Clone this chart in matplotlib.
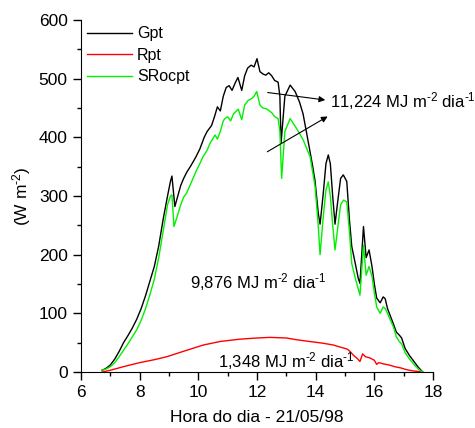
"""Radiacao global, refletida e saldo de ondas curtas - 21/05/98"""

import matplotlib
matplotlib.use("Agg")
import matplotlib.pyplot as plt
from matplotlib.ticker import MultipleLocator

plt.rcParams["font.family"] = ["Liberation Sans", "DejaVu Sans"]
plt.rcParams["mathtext.fontset"] = "custom"
plt.rcParams["mathtext.rm"] = "Liberation Sans"
plt.rcParams["mathtext.it"] = "Liberation Sans"
plt.rcParams["mathtext.default"] = "regular"

FS = 12.5

# Gpt (global)
gpt_hora = [6.72, 6.85, 7.0, 7.15, 7.3, 7.45, 7.6, 7.75, 7.9, 8.05, 8.2, 8.35, 8.5,
            8.65, 8.8, 8.95, 9.05, 9.1, 9.2, 9.3, 9.4, 9.5, 9.6, 9.75, 9.9, 10.05,
            10.2, 10.3, 10.45, 10.55, 10.65, 10.75, 10.85, 10.95, 11.05, 11.15,
            11.25, 11.35, 11.48, 11.58, 11.68, 11.8, 11.9, 12.0, 12.1, 12.2, 12.3,
            12.4, 12.5, 12.6, 12.72, 12.78, 12.82, 12.95, 13.13, 13.3, 13.45,
            13.57, 13.7, 13.81, 13.9, 13.98, 14.09, 14.15, 14.25, 14.35, 14.43,
            14.5, 14.58, 14.66, 14.75, 14.85, 14.94, 15.06, 15.15, 15.23, 15.35,
            15.45, 15.51, 15.63, 15.72, 15.82, 15.92, 16.0, 16.08, 16.2, 16.3,
            16.37, 16.45, 16.55, 16.65, 16.75, 16.85, 16.93, 17.05, 17.2, 17.35,
            17.5, 17.65]
gpt = [3, 6, 12, 22, 35, 50, 62, 75, 90, 108, 130, 155, 180, 215, 260, 300, 325,
       334, 282, 300, 318, 330, 340, 352, 365, 380, 400, 410, 420, 435, 452, 445,
       470, 485, 488, 480, 492, 502, 480, 505, 518, 523, 520, 534, 512, 508, 506,
       510, 505, 497, 494, 470, 390, 470, 489, 478, 460, 440, 405, 375, 350, 325,
       270, 252, 300, 355, 370, 355, 300, 252, 290, 330, 336, 325, 260, 214, 185,
       160, 151, 248, 195, 208, 180, 150, 126, 118, 128, 125, 108, 95, 82, 68, 63,
       58, 40, 28, 18, 8, 0]

# Rpt (refletida)
rpt_hora = [6.72, 7.0, 7.44, 8.0, 8.5, 8.92, 9.6, 10.17, 10.74, 11.42, 12.0, 12.44,
            13.0, 13.35, 13.8, 14.26, 14.6, 14.94, 15.08, 15.17, 15.3, 15.42, 15.51,
            15.6, 15.7, 15.85, 16.0, 16.08, 16.15, 16.3, 16.5, 16.7, 16.9, 17.1,
            17.3, 17.5, 17.65]
rpt = [0, 3, 9, 16, 21, 26, 37, 46, 52, 56, 58, 59, 58, 55, 52, 49, 46, 41, 39, 35,
       28, 23, 18, 31, 26, 24, 20, 13, 16, 14, 12, 9, 7, 4, 2, 1, 0]

# SRocpt (saldo de ondas curtas)
sr_hora = [6.72, 6.85, 7.0, 7.15, 7.3, 7.45, 7.6, 7.75, 7.9, 8.05, 8.2, 8.35, 8.5,
           8.65, 8.8, 8.95, 9.05, 9.1, 9.17, 9.26, 9.4, 9.5, 9.6, 9.75, 9.94, 10.05,
           10.16, 10.3, 10.4, 10.5, 10.57, 10.65, 10.75, 10.85, 10.91, 11.0, 11.1,
           11.2, 11.36, 11.48, 11.58, 11.7, 11.82, 11.9, 11.99, 12.1, 12.2, 12.3,
           12.4, 12.5, 12.61, 12.72, 12.78, 12.84, 12.95, 13.13, 13.35, 13.58,
           13.81, 13.98, 14.08, 14.15, 14.25, 14.35, 14.43, 14.5, 14.58, 14.66,
           14.75, 14.85, 14.95, 15.06, 15.15, 15.23, 15.35, 15.51, 15.63, 15.72,
           15.82, 15.92, 16.0, 16.08, 16.2, 16.3, 16.37, 16.45, 16.55, 16.65,
           16.75, 16.85, 16.93, 17.05, 17.2, 17.35, 17.5, 17.65]
srocpt = [3, 5, 9, 16, 26, 37, 48, 60, 72, 88, 108, 132, 158, 195, 240, 285, 300,
          302, 248, 262, 285, 298, 305, 322, 344, 355, 367, 378, 390, 398, 404, 397,
          410, 428, 432, 435, 428, 440, 448, 430, 455, 463, 466, 470, 478, 455, 450,
          449, 446, 442, 435, 432, 410, 330, 410, 432, 415, 395, 367, 316, 255, 200,
          260, 310, 324, 300, 250, 208, 245, 285, 293, 290, 240, 185, 160, 131, 216,
          165, 180, 163, 135, 111, 100, 111, 108, 100, 88, 77, 60, 52, 48, 33, 22,
          13, 5, 0]

unid = "MJ m$^{\u20102}$ dia$^{\u20101}$"

fig = plt.figure(figsize=(4.75, 4.28), dpi=100)
ax = fig.add_axes([0.1705, 0.1308, 0.7411, 0.8225])

ax.plot(gpt_hora, gpt, color="black", lw=1, label="Gpt")
ax.plot(rpt_hora, rpt, color="red", lw=1, label="Rpt")
ax.plot(sr_hora, srocpt, color="#00f000", lw=1, label="SRocpt")

ax.set_xlim(6, 18)
ax.set_ylim(0, 600)
ax.xaxis.set_major_locator(MultipleLocator(2))
ax.xaxis.set_minor_locator(MultipleLocator(1))
ax.yaxis.set_major_locator(MultipleLocator(100))
ax.yaxis.set_minor_locator(MultipleLocator(50))
ax.tick_params(which="major", direction="out", length=6, width=1, labelsize=FS)
ax.tick_params(which="minor", direction="out", length=3, width=1)
for side in ("top", "right"):
    ax.spines[side].set_visible(False)

ax.set_xlabel("Hora do dia - 21/05/98", fontsize=FS, labelpad=7)
ax.set_ylabel("(W m$^{\u20102}$)", fontsize=FS, labelpad=4)

ax.legend(loc="upper left", bbox_to_anchor=(0.0, 1.0), frameon=False, fontsize=11.5,
          handlelength=2.8, handletextpad=0.3, labelspacing=0.4, borderaxespad=0.0)

ax.text(9.72, 153, "9,876 " + unid, fontsize=12, va="center")
ax.text(10.67, 19, "1,348 " + unid, fontsize=12, va="center")
ax.text(14.49, 462, "11,224 " + unid, fontsize=12, va="center")

arrow = dict(arrowstyle="-|>", color="black", lw=0.8, mutation_scale=9)
ax.annotate("", xy=(14.42, 463), xytext=(12.27, 477), arrowprops=arrow)
ax.annotate("", xy=(14.49, 438), xytext=(12.27, 373), arrowprops=arrow)

fig.savefig("out.png", dpi=100)
